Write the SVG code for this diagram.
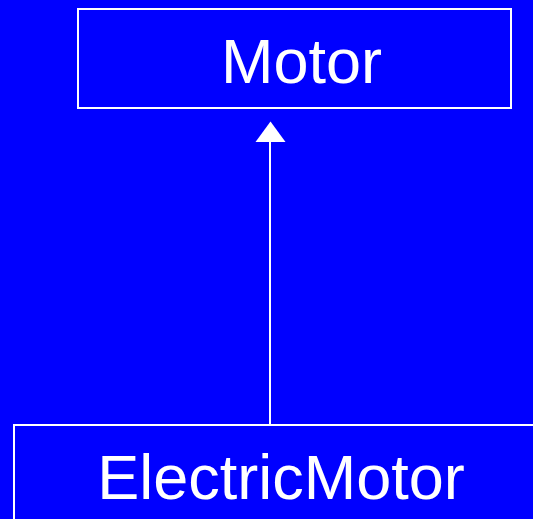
<svg xmlns="http://www.w3.org/2000/svg" width="533" height="519" viewBox="0 0 533 519">
<style>
.box{fill:#0000ff;stroke:#ffffff;stroke-width:2}
.lbl{fill:#ffffff;font-family:"Liberation Sans",Arial,sans-serif;font-size:63px;text-anchor:middle}
.edge{stroke:#ffffff;stroke-width:2;fill:none}
.head{fill:#ffffff}
</style>
<rect x="0" y="0" width="533" height="519" fill="#0000ff"/>
<g id="connectors">
<line class="edge" x1="270" y1="425" x2="270" y2="142"/>
<path class="head" d="M270.5,121.5 L285.5,142 L255.5,142 Z"/>
</g>
<g id="Motor">
<rect class="box" x="78" y="9" width="433" height="99"/>
<text class="lbl" x="301.5" y="83">Motor</text>
</g>
<g id="ElectricMotor">
<rect class="box" x="14" y="425" width="540" height="120"/>
<text class="lbl" x="281" y="499">ElectricMotor</text>
</g>
</svg>
